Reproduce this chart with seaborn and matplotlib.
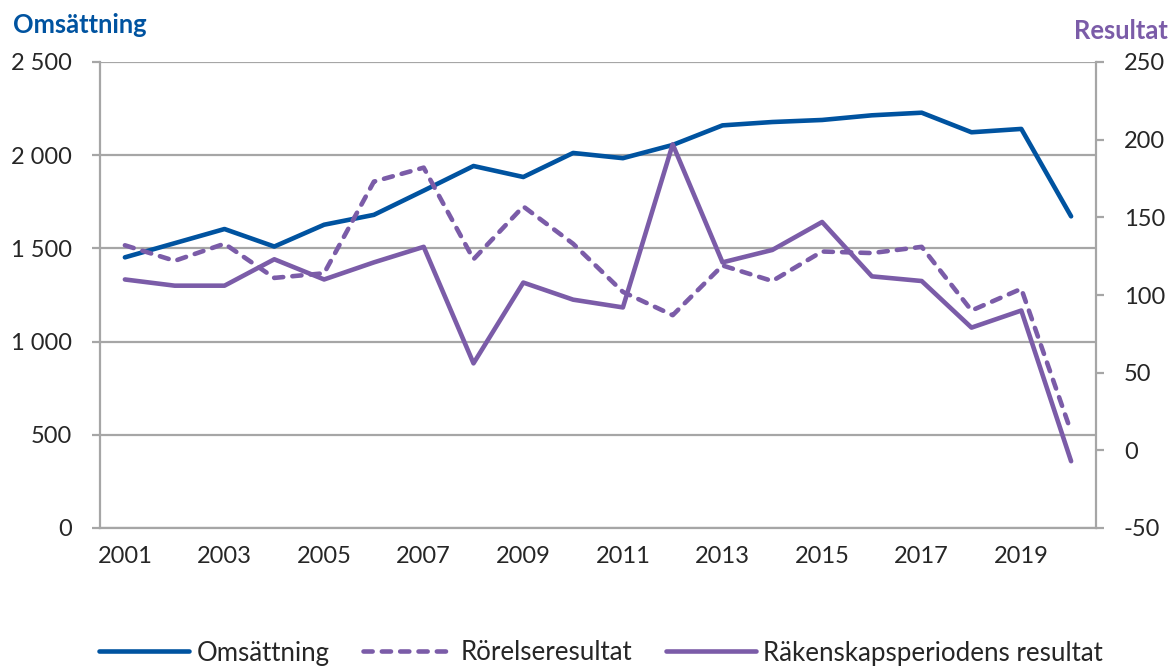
import numpy as np
import pandas as pd
import matplotlib
matplotlib.use("Agg")
import matplotlib.pyplot as plt
import seaborn as sns
from matplotlib.ticker import FuncFormatter

# Data
ar = list(range(2001, 2021))
omsattning = [1452, 1528, 1604, 1510, 1627, 1680, 1810, 1942, 1883, 2012,
              1984, 2055, 2160, 2178, 2189, 2214, 2228, 2123, 2141, 1672]
rorelseresultat = [132, 122, 133, 111, 114, 173, 182, 123, 157, 133,
                   102, 87, 119, 109, 128, 127, 131, 90, 104, 12]
periodens_resultat = [110, 106, 106, 123, 110, 121, 131, 56, 108, 97,
                      92, 197, 121, 129, 147, 112, 109, 79, 90, -7]

BLA = "#0053A0"
LILA = "#7B5CA8"
GRA = "#A6A6A6"

df = pd.DataFrame({
    "År": ar,
    "Omsättning": omsattning,
    "Rörelseresultat": rorelseresultat,
    "Räkenskapsperiodens resultat": periodens_resultat,
})

sns.set_theme(style="white")
plt.rcParams["font.family"] = ["Lato", "DejaVu Sans"]
plt.rcParams["axes.unicode_minus"] = False

fig = plt.figure(figsize=(11.73, 6.66), dpi=100)
ax = fig.add_axes([100 / 1173, 1 - 528 / 666, 996 / 1173, 466 / 666])
ax2 = ax.twinx()

LW = 3.3
sns.lineplot(data=df, x="År", y="Omsättning", ax=ax, color=BLA,
             linewidth=LW, label="Omsättning", legend=False)
sns.lineplot(data=df, x="År", y="Rörelseresultat", ax=ax2, color=LILA,
             linewidth=LW, label="Rörelseresultat", legend=False)
ax2.lines[0].set_dashes([2.0, 2.0])
ax2.lines[0].set_dash_capstyle("round")
sns.lineplot(data=df, x="År", y="Räkenskapsperiodens resultat", ax=ax2,
             color=LILA, linewidth=LW, label="Räkenskapsperiodens resultat",
             legend=False)
for ln in ax.lines + ax2.lines:
    ln.set_solid_capstyle("round")

# Axes limits
ax.set_xlim(2000.5, 2020.5)
ax.set_ylim(0, 2500)
ax2.set_ylim(-50, 250)

# Gridlines (left axis)
ax.set_yticks([0, 500, 1000, 1500, 2000, 2500])
ax.yaxis.set_major_formatter(FuncFormatter(lambda v, p: f"{int(v):,}".replace(",", " ")))
ax.grid(axis="y", color=GRA, linewidth=1.6)
ax.grid(axis="x", visible=False)
ax2.grid(False)
ax2.set_yticks([-50, 0, 50, 100, 150, 200, 250])

# x ticks: marks at category boundaries, labels at odd years
ax.set_xticks(np.arange(2000.5, 2021, 1))
ax.set_xticklabels([])
ax.set_xticks(ar[::2], minor=True)
ax.set_xticklabels([str(a) for a in ar[::2]], minor=True)
ax.tick_params(axis="x", which="major", length=7, width=1.6, color=GRA, direction="out")
ax.tick_params(axis="x", which="minor", length=0, pad=13, labelsize=17)
ax.tick_params(axis="y", length=6, width=1.6, color=GRA, direction="out", pad=14, labelsize=17)
ax2.tick_params(axis="y", length=6, width=1.6, color=GRA, direction="out", pad=14, labelsize=17)

for a in (ax, ax2):
    for s in a.spines.values():
        s.set_visible(False)
    a.set_xlabel("")
    a.set_ylabel("")
for side in ("left", "bottom"):
    ax.spines[side].set_visible(True)
    ax.spines[side].set_color(GRA)
    ax.spines[side].set_linewidth(1.6)
ax2.spines["right"].set_visible(True)
ax2.spines["right"].set_color(GRA)
ax2.spines["right"].set_linewidth(1.6)

# Axis titles
fig.text(13 / 1173, 1 - 25 / 666, "Omsättning", color=BLA, fontsize=18.4,
         fontweight="bold", ha="left", va="center")
fig.text(1168 / 1173, 1 - 31 / 666, "Resultat", color=LILA, fontsize=18.4,
         fontweight="bold", ha="right", va="center")

# Legend
handles = ax.get_lines()[:1] + ax2.get_lines()[:2]
labels = ["Omsättning", "Rörelseresultat", "Räkenskapsperiodens resultat"]
fig.legend(handles, labels, loc="center", bbox_to_anchor=(601 / 1173, 1 - 653 / 666),
           ncol=3, frameon=False, fontsize=18.6, handlelength=3.5,
           handletextpad=0.28, columnspacing=1.3, borderpad=0)

fig.savefig("out.png", dpi=100)
